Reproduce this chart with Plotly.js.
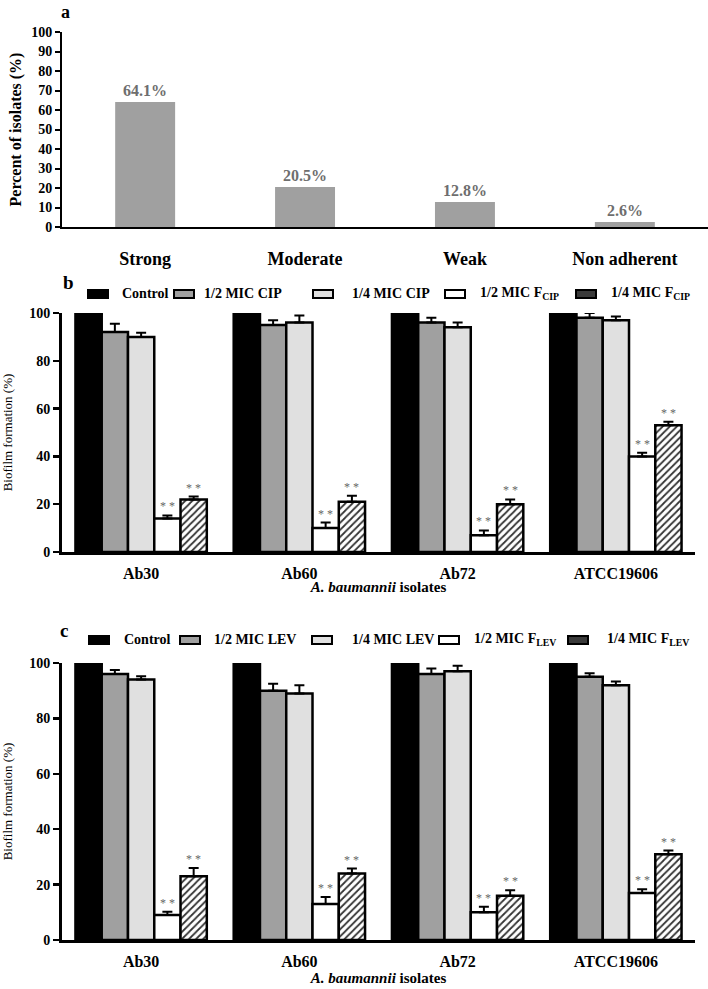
<!DOCTYPE html>
<html>
<head>
<meta charset="utf-8">
<script src="https://cdn.plot.ly/plotly-3.0.1.min.js"></script>
<style>
  body { margin: 0; background: #fff; }
  .panel { position: absolute; left: 0; width: 708px; }
  #panelA { top: 0; height: 270px; }
  #panelB { top: 270px; height: 325px; }
  #panelC { top: 598px; height: 391px; }
</style>
</head>
<body>
<div id="panelA" class="panel"></div>
<div id="panelB" class="panel"></div>
<div id="panelC" class="panel"></div>
<script>
// ---- data ----
var adhesionCats = ['Strong', 'Moderate', 'Weak', 'Non adherent'];
var adhesionPct = [64.1, 20.5, 12.8, 2.6];

var isolates = ['Ab30', 'Ab60', 'Ab72', 'ATCC19606'];

var cipNames = ['Control', '1/2 MIC CIP', '1/4 MIC CIP', '1/2 MIC F<sub>CIP</sub>', '1/4 MIC F<sub>CIP</sub>'];
var cipControl = [100, 100, 100, 100];
var cipHalf = [92, 95, 96, 98];
var cipHalfSd = [3.5, 2, 2, 2];
var cipQuarter = [90, 96, 94, 97];
var cipQuarterSd = [1.7, 3, 2, 1.5];
var cipHalfF = [14, 10, 7, 40];
var cipHalfFSd = [1.3, 2.3, 2, 1.5];
var cipQuarterF = [22, 21, 20, 53];
var cipQuarterFSd = [1.2, 2.5, 2, 1.5];

var levNames = ['Control', '1/2 MIC LEV', '1/4 MIC LEV', '1/2 MIC F<sub>LEV</sub>', '1/4 MIC F<sub>LEV</sub>'];
var levControl = [100, 100, 100, 100];
var levHalf = [96, 90, 96, 95];
var levHalfSd = [1.5, 2.5, 2, 1.3];
var levQuarter = [94, 89, 97, 92];
var levQuarterSd = [1.2, 3, 2, 1.3];
var levHalfF = [9, 13, 10, 17];
var levHalfFSd = [1.2, 2.5, 2, 1.3];
var levQuarterF = [23, 24, 16, 31];
var levQuarterFSd = [3, 1.8, 2, 1.3];

var sigLabel = '* *';

// ---- styling ----
var SERIF = 'Liberation Serif, Times New Roman, serif';
var fills = ['#000000', '#a0a0a0', '#e0e0e0', '#ffffff', '#ffffff'];
var keyFills = ['#000000', '#a0a0a0', '#e0e0e0', '#ffffff', '#3a3a3a'];
var BARGAP = 0.17;

function toPaper(box, xp, yp) {
  return {
    x: (xp - box.l) / (box.w - box.l - box.r),
    y: (box.h - box.b - yp) / (box.h - box.t - box.b)
  };
}

function panelLabel(box, text, xp, yp, size) {
  var p = toPaper(box, xp, yp);
  return {
    xref: 'paper', yref: 'paper', x: p.x, y: p.y, text: text, showarrow: false,
    xanchor: 'center', yanchor: 'middle',
    font: {family: SERIF, size: size, color: '#000', weight: 'bold'}
  };
}

// ---- panel a ----
function drawAdhesion() {
  var box = {w: 708, h: 270, l: 62, r: 0, t: 32, b: 43};
  var trace = {
    x: adhesionCats, y: adhesionPct, type: 'bar', width: 0.375,
    marker: {color: '#a0a0a0'}, hoverinfo: 'skip'
  };
  var ann = adhesionCats.map(function (c, i) {
    return {
      x: c, y: adhesionPct[i], text: adhesionPct[i].toFixed(1) + '%', showarrow: false,
      yanchor: 'bottom', yshift: 1,
      font: {family: SERIF, size: 16, color: '#6e6e6e', weight: 'bold'}
    };
  });
  ann.push(panelLabel(box, 'a', 65, 12, 18));
  var layout = {
    width: box.w, height: box.h,
    margin: {l: box.l, r: box.r, t: box.t, b: box.b},
    paper_bgcolor: '#fff', plot_bgcolor: '#fff', showlegend: false,
    xaxis: {
      type: 'category', range: [-0.52, 3.52], showline: true, linecolor: '#000', linewidth: 2,
      ticks: '', ticklabelstandoff: 14, automargin: false,
      tickfont: {family: SERIF, size: 18, color: '#000', weight: 'bold'}
    },
    yaxis: {
      range: [0, 100], dtick: 10, showgrid: false, zeroline: false,
      showline: true, linecolor: '#000', linewidth: 2,
      ticks: 'outside', ticklen: 5, tickwidth: 2, tickcolor: '#000', automargin: false,
      tickfont: {family: SERIF, size: 14, color: '#000', weight: 'bold'},
      title: {text: 'Percent of isolates (%)', standoff: 6,
        font: {family: SERIF, size: 16, color: '#000', weight: 'bold'}}
    },
    annotations: ann
  };
  Plotly.newPlot('panelA', [trace], layout, {staticPlot: true});
}

// ---- panels b and c ----
function drawBiofilm(divId, box, names, series, sds, label, labelPos, keyX, textX, keyY) {
  var nSer = series.length;
  var data = series.map(function (vals, k) {
    var t = {
      x: isolates, y: vals, name: names[k], type: 'bar', hoverinfo: 'skip',
      marker: {color: fills[k], line: {color: '#000', width: 2.5}},
      error_y: {
        type: 'data', symmetric: false, array: sds[k], arrayminus: sds[k].map(function () { return 0; }),
        visible: k > 0, color: '#000', thickness: 2, width: 5
      }
    };
    if (k === 4) {
      t.marker.pattern = {shape: '/', fgcolor: '#333', bgcolor: '#fff', size: 5, solidity: 0.35};
    }
    return t;
  });

  var slot = (1 - BARGAP) / nSer;
  var ann = [];
  [3, 4].forEach(function (k) {
    isolates.forEach(function (c, i) {
      ann.push({
        x: i + (k - (nSer - 1) / 2) * slot, y: series[k][i] + sds[k][i],
        text: sigLabel, showarrow: false, yanchor: 'bottom', yshift: 0,
        font: {family: SERIF, size: 12, color: '#666666'}
      });
    });
  });
  ann.push(panelLabel(box, label, labelPos[0], labelPos[1], 19));

  // legend row
  var shapes = [];
  names.forEach(function (nm, k) {
    var a = toPaper(box, keyX[k], keyY - 4);
    var b = toPaper(box, keyX[k] + 20, keyY + 4);
    shapes.push({
      type: 'rect', xref: 'paper', yref: 'paper', x0: a.x, x1: b.x, y0: a.y, y1: b.y,
      fillcolor: keyFills[k], line: {color: '#000', width: 2}
    });
    var tp = toPaper(box, textX[k], keyY);
    ann.push({
      xref: 'paper', yref: 'paper', x: tp.x, y: tp.y, text: nm, showarrow: false,
      xanchor: 'left', yanchor: 'middle',
      font: {family: SERIF, size: 14, color: '#000', weight: 'bold'}
    });
  });

  var layout = {
    width: box.w, height: box.h,
    margin: {l: box.l, r: box.r, t: box.t, b: box.b},
    paper_bgcolor: '#fff', plot_bgcolor: '#fff', showlegend: false,
    barmode: 'group', bargap: BARGAP, bargroupgap: 0,
    xaxis: {
      type: 'category', range: [-0.5, 3.5], showline: true, linecolor: '#000', linewidth: 3,
      ticks: '', ticklabelstandoff: 5, automargin: false,
      tickfont: {family: SERIF, size: 16, color: '#000', weight: 'bold'},
      title: {text: '<i>A. baumannii</i> isolates', standoff: 1,
        font: {family: SERIF, size: 15, color: '#000', weight: 'bold'}}
    },
    yaxis: {
      range: [0, 100], dtick: 20, showgrid: false, zeroline: false,
      showline: true, linecolor: '#000', linewidth: 3,
      ticks: 'outside', ticklen: 6, tickwidth: 2.5, tickcolor: '#000', automargin: false,
      tickfont: {family: SERIF, size: 14, color: '#000', weight: 'bold'},
      title: {text: 'Biofilm formation (%)', standoff: 14,
        font: {family: SERIF, size: 13, color: '#000'}}
    },
    annotations: ann,
    shapes: shapes
  };
  Plotly.newPlot(divId, data, layout, {staticPlot: true});
}

drawAdhesion();

drawBiofilm('panelB', {w: 708, h: 325, l: 62, r: 13, t: 43, b: 43},
  cipNames,
  [cipControl, cipHalf, cipQuarter, cipHalfF, cipQuarterF],
  [[0, 0, 0, 0], cipHalfSd, cipQuarterSd, cipHalfFSd, cipQuarterFSd],
  'b', [68, 12],
  [88, 174, 313, 445, 576], [120, 202, 350, 478, 609], 24);

drawBiofilm('panelC', {w: 708, h: 391, l: 62, r: 13, t: 65, b: 49},
  levNames,
  [levControl, levHalf, levQuarter, levHalfF, levQuarterF],
  [[0, 0, 0, 0], levHalfSd, levQuarterSd, levHalfFSd, levQuarterFSd],
  'c', [64, 32],
  [89, 180, 312, 439, 568], [122, 212, 350, 472, 605], 42);
</script>
</body>
</html>
